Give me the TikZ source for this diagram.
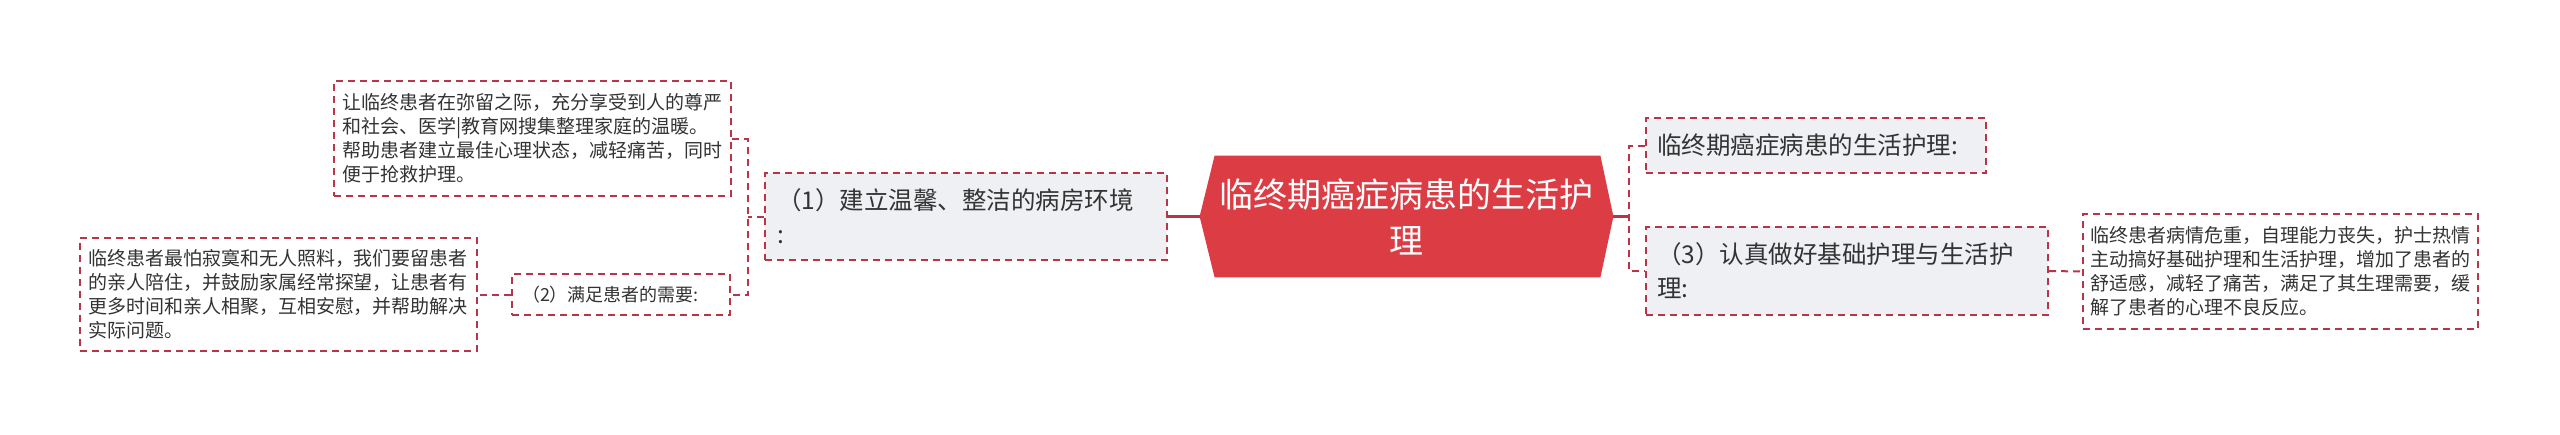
\documentclass[tikz,border=0pt]{standalone}
\usepackage{fontspec}
\setmainfont{Noto Sans CJK SC}
\usetikzlibrary{calc}
\pgfdeclarelayer{background}
\pgfsetlayers{background,main}
\definecolor{bordred}{HTML}{B83446}
\definecolor{rootred}{HTML}{DC3D45}
\definecolor{nodegrey}{HTML}{EEF0F3}
\definecolor{txt}{HTML}{333333}
\begin{document}
\begin{tikzpicture}[x=0.5pt,y=-0.5pt,
  box/.style={draw=bordred, line width=1pt, dash pattern=on 3.5pt off 2.5pt,
    rectangle, inner ysep=0pt, align=left, text=txt, anchor=center},
  small/.style={font=\fontsize{9.5pt}{12pt}\selectfont},
  mid/.style={font=\fontsize{12.25pt}{17pt}\selectfont, fill=nodegrey},
  link/.style={draw=bordred, line width=1pt, dash pattern=on 3.5pt off 2.5pt},
  rootlink/.style={draw=bordred, line width=1.2pt}
]
\begin{pgfonlayer}{background}
\fill[white] (0,0) rectangle (2560,434);
\end{pgfonlayer}
\useasboundingbox (0,0) rectangle (2560,434);

% left side
\node[box, small, inner xsep=4pt, text width=190.5pt, minimum height=57.5pt] (box1) at (532.5,138.5)
 {让临终患者在弥留之际，充分享受到人的尊严\\和社会、医学|教育网搜集整理家庭的温暖。\\帮助患者建立最佳心理状态，减轻痛苦，同时\\便于抢救护理。};
\node[box, small, inner xsep=4pt, text width=190.5pt, minimum height=56.5pt] (box2) at (278.5,294.5)
 {临终患者最怕寂寞和无人照料，我们要留患者\\的亲人陪住，并鼓励家属经常探望，让患者有\\更多时间和亲人相聚，互相安慰，并帮助解决\\实际问题。};
\node[box, font=\fontsize{9pt}{12pt}\selectfont, inner xsep=5pt, text width=99pt, minimum height=20.5pt] (n2) at (621,294.5)
 {（2）满足患者的需要:};
\node[box, mid, inner xsep=6pt, text width=189pt, minimum height=43.5pt] (n1) at (966,216.5)
 {（1）建立温馨、整洁的病房环境\\:};

% root
\node[inner sep=0pt, minimum width=206.5pt, minimum height=60.5pt, align=center, text=white,
  font=\fontsize{17pt}{23pt}\selectfont] (root) at (1406.5,216.5)
 {临终期癌症病患的生活护\\理};
\begin{pgfonlayer}{background}
\fill[rootred] (root.west) -- ($(root.north west)+(15,0)$) -- ($(root.north east)+(-13,0)$)
  -- (root.east) -- ($(root.south east)+(-13,0)$) -- ($(root.south west)+(15,0)$) -- cycle;
\end{pgfonlayer}

% right side
\node[box, mid, inner xsep=5.5pt, text width=159pt, minimum height=27.5pt] (nA) at (1816,145.5)
 {临终期癌症病患的生活护理:};
\node[box, mid, inner xsep=5.5pt, text width=190pt, minimum height=44pt] (n3) at (1847,271)
 {（3）认真做好基础护理与生活护\\理:};
\node[box, small, inner xsep=3.75pt, text width=190pt, minimum height=57.5pt] (boxR) at (2280.5,271.5)
 {临终患者病情危重，自理能力丧失，护士热情\\主动搞好基础护理和生活护理，增加了患者的\\舒适感，减轻了痛苦，满足了其生理需要，缓\\解了患者的心理不良反应。};

% connectors
\coordinate (lbm) at (748,216.5);
\coordinate (rbm) at (1629,216.5);
\draw[rootlink] (root.west) -- (n1.east);
\draw[link] (n1.west) -- (lbm);
\draw[link] (box1.east) -- (box1.east -| lbm) -- (n2.east -| lbm) -- (n2.east);
\draw[link] (n2.west) -- (box2.east);
\draw[rootlink] (root.east) -- (rbm);
\draw[link] (nA.west) -- (nA.west -| rbm) -- (n3.west -| rbm) -- (n3.west);
\draw[link] (n3.east) -- (boxR.west);
\end{tikzpicture}
\end{document}
